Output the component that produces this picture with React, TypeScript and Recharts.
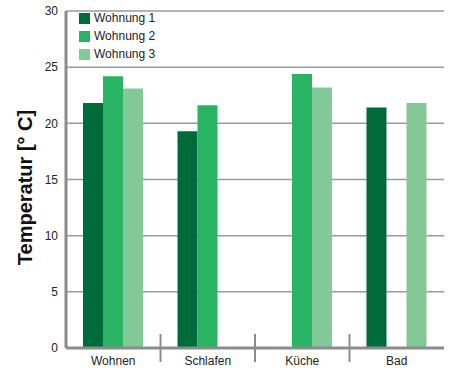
import { BarChart, Bar, XAxis, YAxis, CartesianGrid, Label } from 'recharts';

const rooms = ['Wohnen', 'Schlafen', 'Küche', 'Bad'];
const wohnung1 = [21.8, 19.3, null, 21.4];
const wohnung2 = [24.2, 21.6, 24.4, null];
const wohnung3 = [23.1, null, 23.2, 21.8];
const yTicks = [0, 5, 10, 15, 20, 25, 30];

const seriesNames = ['Wohnung 1', 'Wohnung 2', 'Wohnung 3'];
const colors = ['#006b3a', '#28b463', '#83c997'];

const W = 449;
const H = 372;
const M = { top: 11, right: 5, left: 0, bottom: 0 };
const Y_AXIS_W = 66;
const X_AXIS_H = 24;
const FONT = '"Liberation Sans", Arial, Helvetica, sans-serif';

const data = rooms.map((room, i) => ({
  room,
  w1: wohnung1[i],
  w2: wohnung2[i],
  w3: wohnung3[i],
}));

const band = (W - M.left - M.right - Y_AXIS_W) / rooms.length;
const axisY = H - M.bottom - X_AXIS_H;

// category labels plus the little separators between groups
function RoomTick(props: any) {
  const { x, y, payload, index } = props;
  return (
    <g>
      {index > 0 && (
        <line x1={x - band / 2} x2={x - band / 2} y1={axisY - 14} y2={axisY + 14} stroke="#8c8c8c" strokeWidth={2} />
      )}
      <text x={x} y={y} dy="0.71em" textAnchor="middle" fontSize={12} fill="#222" fontFamily={FONT}>
        {payload.value}
      </text>
    </g>
  );
}

function AxisTitle(props: any) {
  const vb = props.viewBox || {};
  const cx = vb.x + 25;
  const cy = vb.y + vb.height / 2 + 8;
  return (
    <text
      x={cx}
      y={cy}
      transform={`rotate(-90, ${cx}, ${cy})`}
      textAnchor="middle"
      dominantBaseline="central"
      fontSize={20}
      fontWeight="bold"
      fill="#111"
      fontFamily={FONT}
    >
      Temperatur [° C]
    </text>
  );
}

// legend sits inside the plot, top-left, so it is drawn as an overlay
function LegendBox() {
  return (
    <div style={{ position: 'absolute', left: 79, top: 9, fontFamily: FONT, fontSize: 12, color: '#222' }}>
      {seriesNames.map((name, i) => (
        <div key={name} style={{ display: 'flex', alignItems: 'center', height: 18 }}>
          <span style={{ display: 'inline-block', width: 11, height: 11, background: colors[i], marginRight: 4 }} />
          <span>{name}</span>
        </div>
      ))}
    </div>
  );
}

export default function App() {
  return (
    <div style={{ position: 'absolute', left: 0, top: 0, width: W, height: H, background: '#fff' }}>
      <BarChart width={W} height={H} data={data} margin={M} barGap={0} barSize={20}>
        <CartesianGrid vertical={false} stroke="#9a9a9a" strokeWidth={1.5} />
        <XAxis
          dataKey="room"
          height={X_AXIS_H}
          tick={<RoomTick />}
          tickLine={false}
          axisLine={{ stroke: '#8c8c8c', strokeWidth: 3 }}
          interval={0}
        />
        <YAxis
          width={Y_AXIS_W}
          domain={[0, 30]}
          ticks={yTicks}
          tickLine={false}
          axisLine={{ stroke: '#8c8c8c', strokeWidth: 3 }}
          tick={{ fontSize: 12, fill: '#222', fontFamily: FONT }}
        >
          <Label position="insideLeft" content={<AxisTitle />} />
        </YAxis>
        <Bar dataKey="w1" name={seriesNames[0]} fill={colors[0]} isAnimationActive={false} />
        <Bar dataKey="w2" name={seriesNames[1]} fill={colors[1]} isAnimationActive={false} />
        <Bar dataKey="w3" name={seriesNames[2]} fill={colors[2]} isAnimationActive={false} />
      </BarChart>
      <LegendBox />
    </div>
  );
}
